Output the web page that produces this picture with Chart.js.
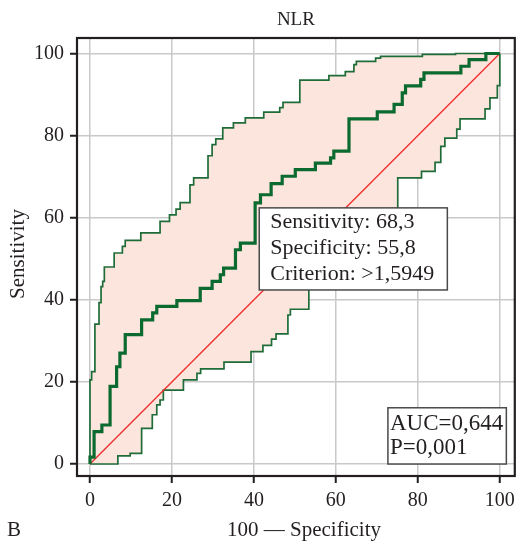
<!DOCTYPE html>
<html>
<head>
<meta charset="utf-8">
<script src="https://cdn.jsdelivr.net/npm/chart.js@4.4.1/dist/chart.umd.min.js"></script>
<style>
  html, body { margin: 0; padding: 0; background: #fff; }
  canvas { display: block; }
</style>
</head>
<body>
<canvas id="rocChart" width="521" height="543"></canvas>
<script>
// tick labels for both axes
const xTicks = [0, 20, 40, 60, 80, 100];
const yTicks = [0, 20, 40, 60, 80, 100];

// ROC curve vertices [100 - specificity, sensitivity]
const rocCurve = [
  [0, 0], [0, 1.7], [1.0, 1.7], [1.0, 7.9], [2.9, 7.9], [2.9, 9.5], [4.9, 9.5], [4.9, 18.9],
  [6.5, 18.9], [6.5, 23.7], [7.3, 23.7], [7.3, 27.0], [8.6, 27.0], [8.6, 31.5], [12.6, 31.5],
  [12.6, 35.1], [15.3, 35.1], [15.3, 36.8], [16.3, 36.8], [16.3, 38.4], [21.2, 38.4], [21.2, 39.8],
  [26.9, 39.8], [26.9, 42.8], [29.8, 42.8], [29.8, 44.5], [31.8, 44.5], [31.8, 46.1], [32.6, 46.1],
  [32.6, 47.7], [35.5, 47.7], [35.5, 52.2], [36.7, 52.2], [36.7, 53.8], [40.3, 53.8], [40.3, 63.6],
  [41.6, 63.6], [41.6, 65.6], [44.2, 65.6], [44.2, 68.3], [46.9, 68.3], [46.9, 70.1], [50.1, 70.1],
  [50.1, 71.7], [55.0, 71.7], [55.0, 73.3], [58.7, 73.3], [58.7, 74.6], [59.5, 74.6], [59.5, 76.2],
  [63.2, 76.2], [63.2, 84.1], [70.1, 84.1], [70.1, 85.8], [74.2, 85.8], [74.2, 87.6], [76.2, 87.6],
  [76.2, 90.4], [77.0, 90.4], [77.0, 92.1], [80.7, 92.1], [80.7, 93.7], [81.5, 93.7], [81.5, 95.3],
  [90.5, 95.3], [90.5, 96.9], [92.5, 96.9], [92.5, 98.5], [96.6, 98.5], [96.6, 100], [100, 100]
];

// upper 95% confidence bound
const upperCI = [
  [0, 0], [0, 20.5], [0.4, 20.5], [0.4, 22.5], [1.2, 22.5], [1.2, 34.1], [2.2, 34.1], [2.2, 39.3],
  [2.7, 39.3], [2.7, 43.2], [3.1, 43.2], [3.1, 44.5], [3.5, 44.5], [3.5, 48.0], [5.9, 48.0],
  [5.9, 51.4], [7.9, 51.4], [7.9, 53.0], [8.6, 53.0], [8.6, 54.5], [12.4, 54.5], [12.4, 56.3],
  [17.1, 56.3], [17.1, 59.1], [19.4, 59.1], [19.4, 60.7], [21.0, 60.7], [21.0, 62.1], [22.0, 62.1],
  [22.0, 63.7], [24.4, 63.7], [24.4, 68.0], [25.3, 68.0], [25.3, 69.7], [28.8, 69.7], [28.8, 75.1],
  [29.8, 75.1], [29.8, 77.8], [30.7, 77.8], [30.7, 79.2], [32.4, 79.2], [32.4, 81.9], [35.0, 81.9],
  [35.0, 83.1], [37.9, 83.1], [37.9, 84.3], [42.4, 84.3], [42.4, 85.7], [46.3, 85.7], [46.3, 86.8],
  [47.1, 86.8], [47.1, 88.1], [51.2, 88.1], [51.2, 93.5], [58.3, 93.5], [58.3, 94.6], [62.3, 94.6],
  [62.3, 95.6], [64.4, 95.6], [64.4, 97.3], [65.0, 97.3], [65.0, 98.1], [69.7, 98.1], [69.7, 98.9],
  [70.9, 98.9], [70.9, 99.3], [81.1, 99.3], [81.1, 99.8], [89.2, 99.8], [89.2, 100], [100, 100]
];

// lower 95% confidence bound
const lowerCI = [
  [0, 0], [6.8, 0], [6.8, 2.0], [9.8, 2.0], [9.8, 2.6], [12.6, 2.6], [12.6, 8.7], [15.2, 8.7],
  [15.2, 12.0], [16.3, 12.0], [16.3, 14.4], [17.1, 14.4], [17.1, 15.6], [17.9, 15.6], [17.9, 18.0],
  [22.8, 18.0], [22.8, 20.5], [26.1, 20.5], [26.1, 22.1], [27.0, 22.1], [27.0, 23.2], [32.7, 23.2],
  [32.7, 24.8], [39.3, 24.8], [39.3, 27.4], [42.2, 27.4], [42.2, 28.9], [44.3, 28.9], [44.3, 30.4],
  [45.4, 30.4], [45.4, 31.7], [48.3, 31.7], [48.3, 36.3], [48.9, 36.3], [48.9, 37.7], [53.4, 37.7],
  [53.4, 50.0], [60.0, 50.0], [60.0, 56.0], [68.0, 56.0], [68.0, 60.0], [75.1, 60.0], [75.1, 69.7],
  [80.9, 69.7], [80.9, 71.3], [84.2, 71.3], [84.2, 73.5], [85.6, 73.5], [85.6, 77.4], [86.6, 77.4],
  [86.6, 79.4], [89.5, 79.4], [89.5, 81.6], [90.3, 81.6], [90.3, 84.1], [96.4, 84.1], [96.4, 86.5],
  [97.6, 86.5], [97.6, 89.2], [99.4, 89.2], [99.4, 92.2], [100, 92.2], [100, 100]
];

const chanceLine = [[0, 0], [100, 100]];

const cutoffText = ['Sensitivity: 68,3', 'Specificity: 55,8', 'Criterion: >1,5949'];
const aucText = ['AUC=0,644', 'P=0,001'];

const toPoints = arr => arr.map(p => ({ x: p[0], y: p[1] }));
const bandShape = toPoints(upperCI.concat(lowerCI.slice().reverse()));

const ink = '#231f20';
const serif = 'Liberation Serif, Times New Roman, serif';

function drawNoteBox(ctx, x, y, box, lines, size, padX, firstBase, lineGap) {
  const l = x.getPixelForValue(box[0]), r = x.getPixelForValue(box[1]);
  const t = y.getPixelForValue(box[2]), b = y.getPixelForValue(box[3]);
  ctx.fillStyle = '#fff';
  ctx.fillRect(l, t, r - l, b - t);
  ctx.strokeStyle = '#4a4a4a';
  ctx.lineWidth = 1.5;
  ctx.strokeRect(l, t, r - l, b - t);
  ctx.fillStyle = ink;
  ctx.font = size + 'px ' + serif;
  ctx.textAlign = 'left';
  ctx.textBaseline = 'alphabetic';
  lines.forEach((s, i) => ctx.fillText(s, l + padX, t + firstBase + i * lineGap));
}

const decorPlugin = {
  id: 'decor',
  afterDatasetsDraw(chart) {
    const { ctx, scales: { x, y } } = chart;
    ctx.save();
    drawNoteBox(ctx, x, y, [41.3, 87.2, 62.4, 42.4], cutoffText, 22, 11, 20.5, 25.7);
    drawNoteBox(ctx, x, y, [72.7, 101.6, 13.7, 0], aucText, 23, 2, 22.5, 23.5);
    ctx.restore();
  },
  afterDraw(chart) {
    const { ctx, chartArea: a } = chart;
    ctx.save();
    ctx.strokeStyle = ink;
    ctx.lineWidth = 2.2;
    ctx.strokeRect(a.left, a.top, a.right - a.left, a.bottom - a.top);

    ctx.fillStyle = ink;
    ctx.textBaseline = 'middle';
    ctx.textAlign = 'center';
    ctx.font = '19px ' + serif;
    ctx.fillText('NLR', (a.left + a.right) / 2, 20);

    ctx.font = '21px ' + serif;
    ctx.fillText('100 \u2014 Specificity', 304, 530);
    ctx.textAlign = 'left';
    ctx.fillText('B', 7, 530);

    ctx.translate(18, 254);
    ctx.rotate(-Math.PI / 2);
    ctx.textAlign = 'center';
    ctx.fillText('Sensitivity', 0, 0);
    ctx.restore();
  }
};

const tickFont = { family: serif, size: 20 };

new Chart(document.getElementById('rocChart').getContext('2d'), {
  type: 'line',
  data: {
    datasets: [
      {
        label: 'ROC',
        data: toPoints(rocCurve),
        borderColor: '#0b6a2f',
        borderWidth: 3.2,
        pointRadius: 0,
        fill: false,
        order: 1
      },
      {
        label: 'Reference',
        data: toPoints(chanceLine),
        borderColor: '#ef2b2d',
        borderWidth: 1.3,
        pointRadius: 0,
        fill: false,
        order: 2
      },
      {
        label: 'Upper CI',
        data: toPoints(upperCI),
        borderColor: '#1f6c38',
        borderWidth: 1.7,
        pointRadius: 0,
        fill: false,
        order: 3
      },
      {
        label: 'Lower CI',
        data: toPoints(lowerCI),
        borderColor: '#1f6c38',
        borderWidth: 1.7,
        pointRadius: 0,
        fill: false,
        order: 3
      },
      {
        label: 'CI band',
        data: bandShape,
        borderWidth: 0,
        borderColor: 'rgba(0,0,0,0)',
        backgroundColor: '#fce5dc',
        pointRadius: 0,
        fill: 'shape',
        order: 9
      }
    ]
  },
  options: {
    responsive: false,
    animation: false,
    layout: { padding: { top: 38, right: 6, left: 0, bottom: 0 } },
    plugins: {
      legend: { display: false },
      tooltip: { enabled: false }
    },
    elements: { line: { tension: 0 } },
    scales: {
      x: {
        type: 'linear',
        min: -3.17,
        max: 103.66,
        afterBuildTicks: s => { s.ticks = xTicks.map(v => ({ value: v })); },
        afterFit: s => { s.height = 67; },
        border: { display: false },
        grid: { color: '#c9c9c9', lineWidth: 1.5, tickColor: ink, tickWidth: 2, tickLength: 7 },
        ticks: { font: tickFont, color: ink, padding: 6, maxRotation: 0 }
      },
      y: {
        type: 'linear',
        min: -2.92,
        max: 103.78,
        afterBuildTicks: s => { s.ticks = yTicks.map(v => ({ value: v })); },
        afterFit: s => { s.width = 77; },
        border: { display: false },
        grid: { color: '#c9c9c9', lineWidth: 1.5, tickColor: ink, tickWidth: 2, tickLength: 7 },
        ticks: { font: tickFont, color: ink, padding: 6 }
      }
    }
  },
  plugins: [decorPlugin]
});
</script>
</body>
</html>
